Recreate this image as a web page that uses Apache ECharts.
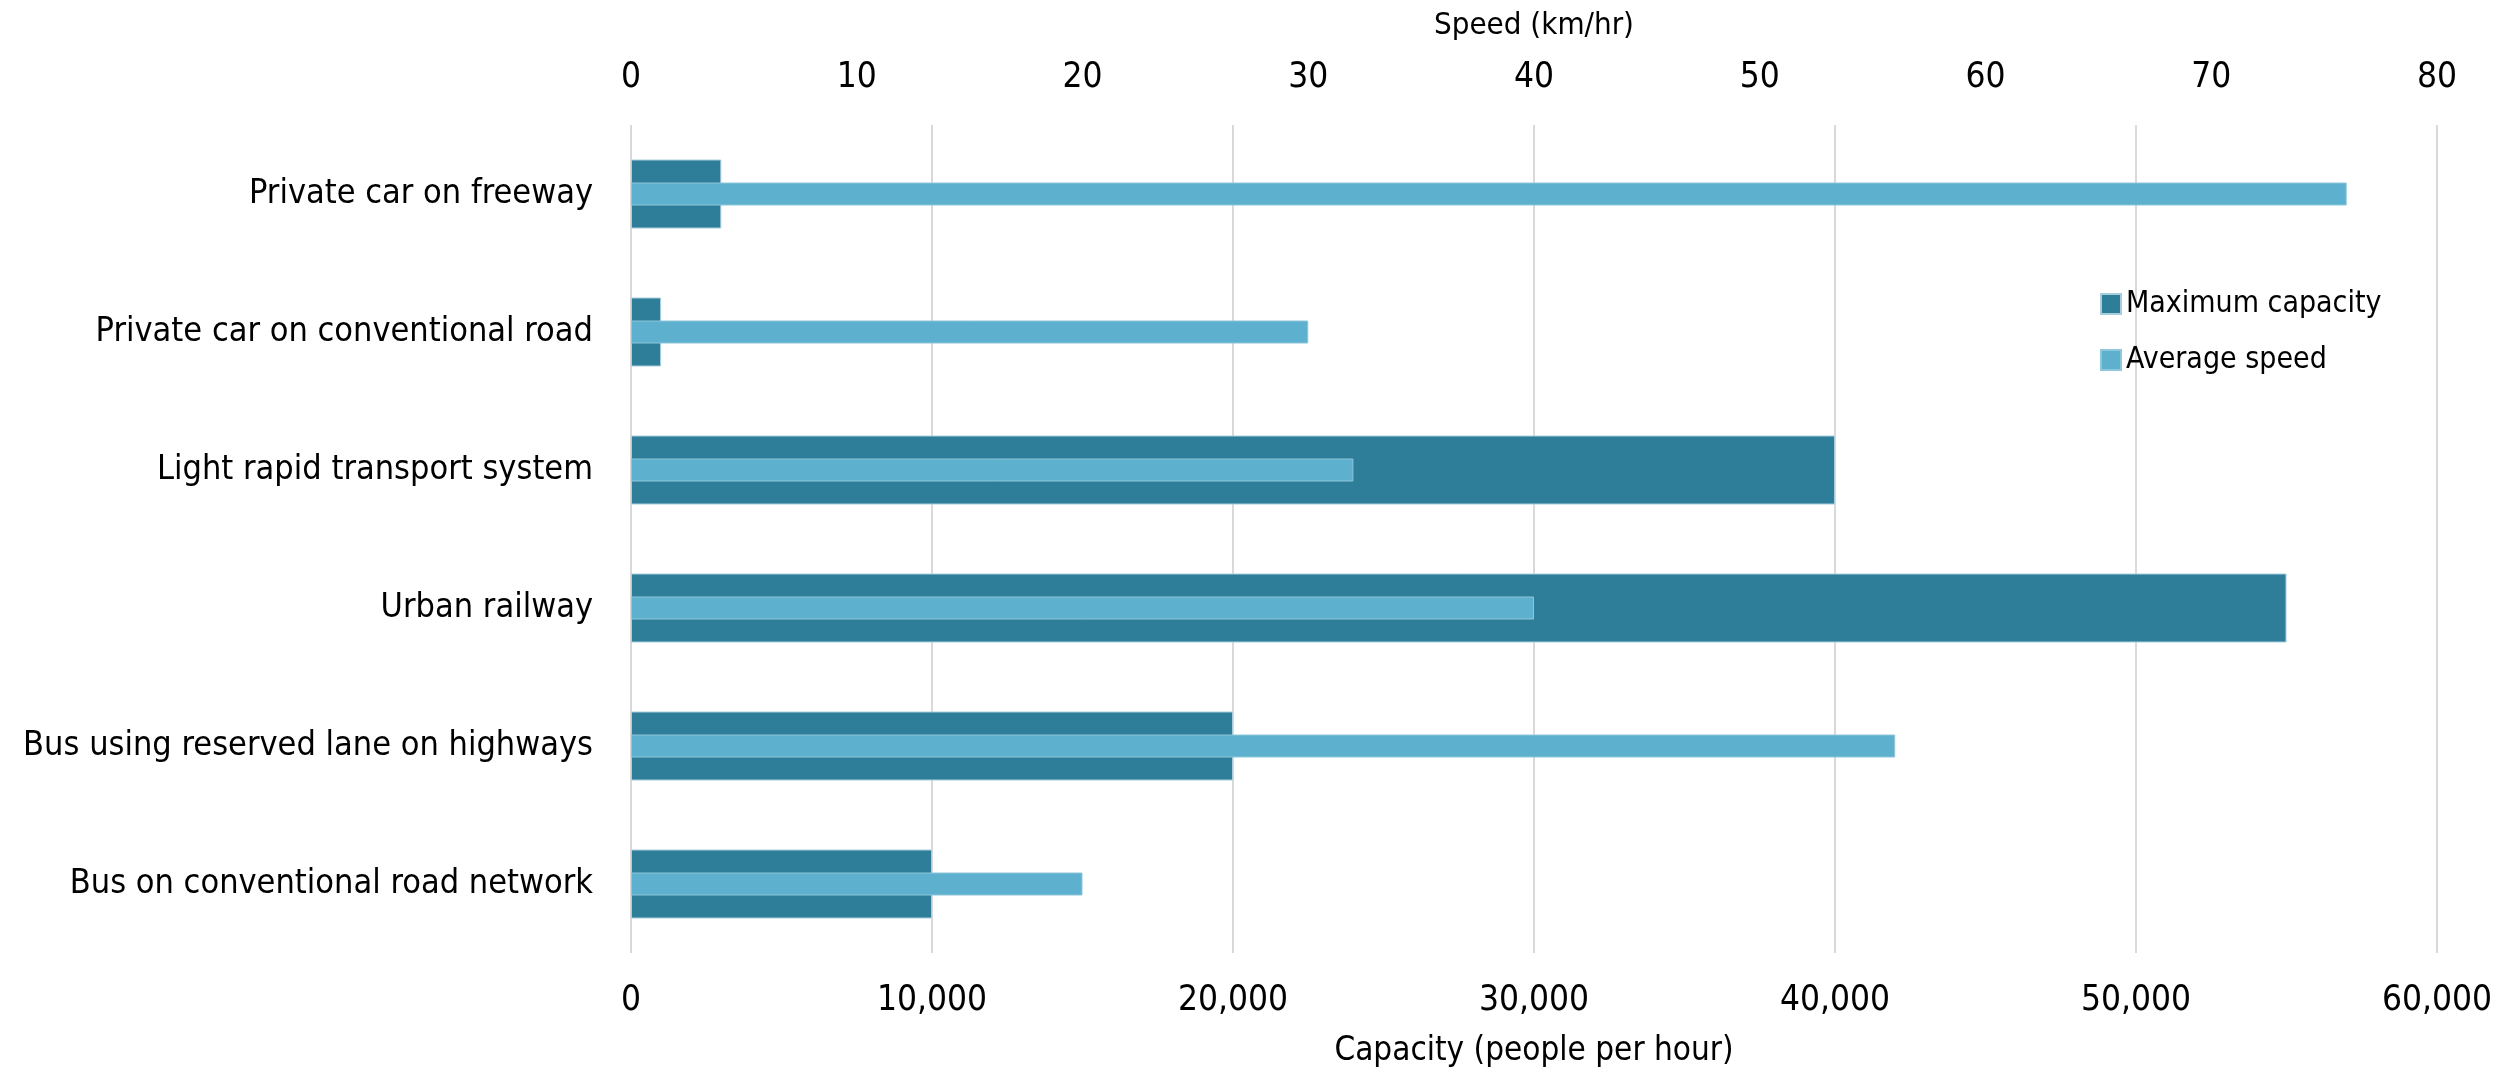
<!DOCTYPE html>
<html>
<head>
<meta charset="utf-8">
<script src="https://cdn.jsdelivr.net/npm/echarts@6/dist/echarts.min.js"></script>
<style>
html, body { margin: 0; padding: 0; background: #fff; }
#main { width: 2498px; height: 1075px; }
</style>
</head>
<body>
<div id="main"></div>
<script>
// transport modes, top to bottom
var categories = [
    'Private car on freeway',
    'Private car on conventional road',
    'Light rapid transport system',
    'Urban railway',
    'Bus using reserved lane on highways',
    'Bus on conventional road network'
];
// people per hour
var capacity = [3000, 1000, 40000, 55000, 20000, 10000];
// km/hr
var speed = [76, 30, 32, 40, 56, 20];

var FONT = '"DejaVu Sans Condensed", "Liberation Sans", sans-serif';

var myChart = echarts.init(document.getElementById('main'));
var option = {
    color: ['#2E7E9A', '#5DB1CF'],
    textStyle: { fontFamily: FONT, color: '#000' },
    animation: false,
    grid: {
        left: 631,
        right: 61,
        top: 125,
        bottom: 122,
        outerBoundsMode: 'none'
    },
    legend: {
        orient: 'vertical',
        left: 2095,
        top: 284,
        icon: 'rect',
        itemWidth: 20,
        itemHeight: 20,
        itemGap: 26,
        textStyle: { fontFamily: FONT, fontSize: 30, color: '#000' },
        data: ['Maximum capacity', 'Average speed']
    },
    xAxis: [
        {
            type: 'value',
            position: 'bottom',
            min: 0,
            max: 60000,
            interval: 10000,
            name: 'Capacity (people per hour)',
            nameLocation: 'middle',
            nameGap: 82,
            nameTextStyle: { fontFamily: FONT, fontSize: 33, color: '#000' },
            axisLine: { show: false },
            axisTick: { show: false },
            axisLabel: {
                fontFamily: FONT, fontSize: 35, color: '#000', margin: 30,
                formatter: function (v) { return v.toLocaleString('en-US'); }
            },
            splitLine: { show: true, lineStyle: { color: '#D9D9D9', width: 2 } }
        },
        {
            type: 'value',
            position: 'top',
            min: 0,
            max: 80,
            interval: 10,
            name: 'Speed (km/hr)',
            nameLocation: 'middle',
            nameGap: 84,
            nameTextStyle: { fontFamily: FONT, fontSize: 31, color: '#000' },
            axisLine: { show: false },
            axisTick: { show: false },
            axisLabel: { fontFamily: FONT, fontSize: 35, color: '#000', margin: 30 },
            splitLine: { show: false }
        }
    ],
    yAxis: [
        {
            type: 'category',
            inverse: true,
            data: categories,
            axisLine: { show: false },
            axisTick: { show: false },
            axisLabel: { fontFamily: FONT, fontSize: 34, color: '#000', margin: 38 }
        },
        {
            type: 'category',
            inverse: true,
            data: categories,
            show: false
        }
    ],
    series: [
        {
            name: 'Maximum capacity',
            type: 'bar',
            xAxisIndex: 0,
            yAxisIndex: 0,
            barWidth: 69,
            itemStyle: { borderColor: '#A8CEDC', borderWidth: 1 },
            data: capacity
        },
        {
            name: 'Average speed',
            type: 'bar',
            xAxisIndex: 1,
            yAxisIndex: 1,
            barWidth: 23,
            itemStyle: { borderColor: '#8EC6DA', borderWidth: 1 },
            data: speed
        }
    ]
};
myChart.setOption(option);

window.addEventListener('resize', function () {
    myChart.resize();
});
</script>
</body>
</html>
